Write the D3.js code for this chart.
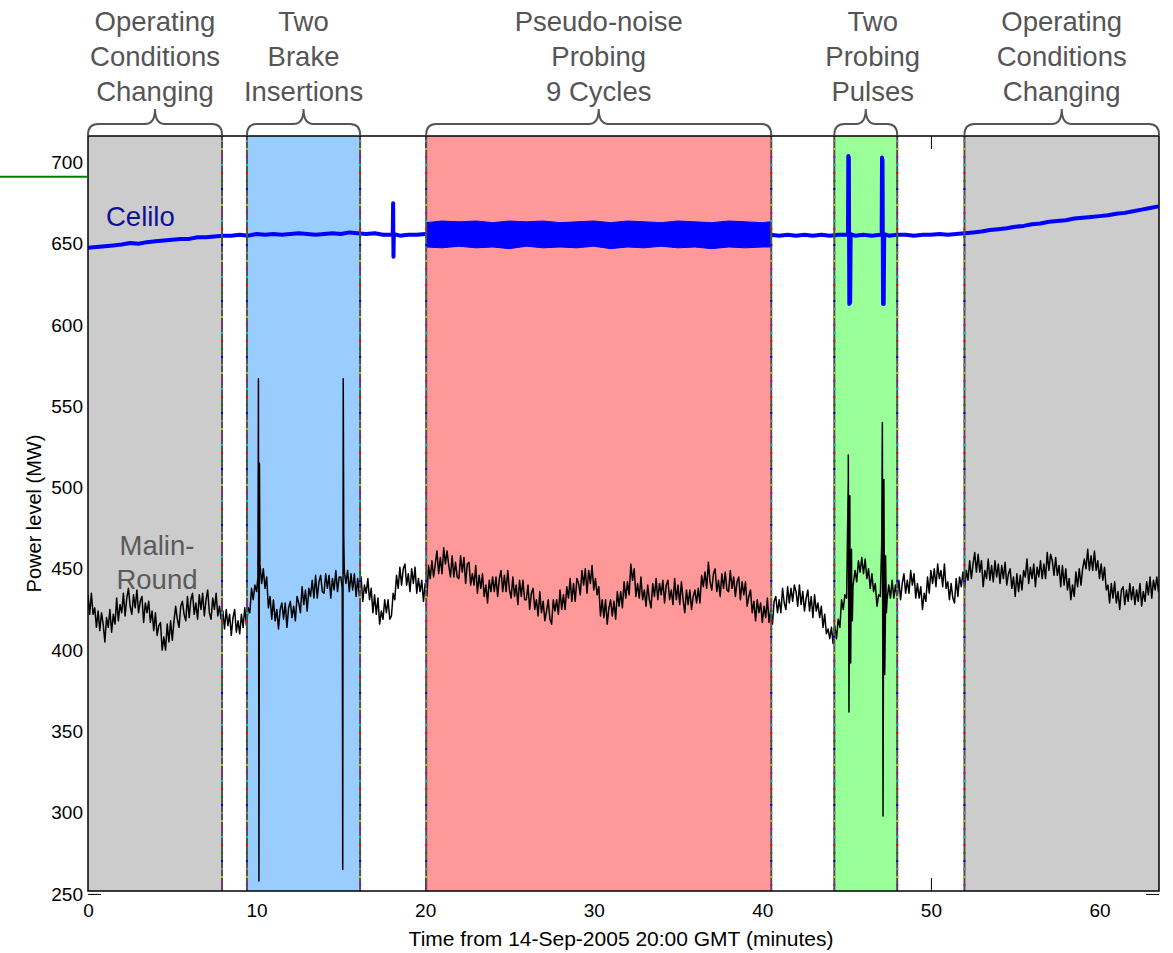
<!DOCTYPE html>
<html><head><meta charset="utf-8">
<script src="https://cdn.jsdelivr.net/npm/d3@7"></script>
<style>body{margin:0;background:#fff}svg{display:block}text{font-family:"Liberation Sans",Arial,sans-serif}</style>
</head><body>
<script>
// ---------- data ----------
const xTicks = [0,10,20,30,40,50,60];
const yTicks = [250,300,350,400,450,500,550,600,650,700];
const shadeStart = [0, 9.43, 20.06, 44.27, 51.99];
const shadeEnd   = [7.95, 16.14, 40.53, 48.0, 63.53];
const shadeColor = ["#cccccc","#99ccff","#ff9999","#99ff99","#cccccc"];
const annotLines = [["Operating","Conditions","Changing"],["Two","Brake","Insertions"],["Pseudo-noise","Probing","9 Cycles"],["Two","Probing","Pulses"],["Operating","Conditions","Changing"]];
const boundaryColors = ["#808080","#bfbf00","#bf00bf","#00bfbf","#ff0000","#008000","#0000ff"];

// Malin-Round, sampled every 0.1 min from t=0
const malinStep = 0.1;
const malinValues = [
434,422,435,422,426,414,424,412,423,416,405,420,414,425,411,422,416,432,418,428,
423,435,421,432,438,427,422,434,426,437,423,430,433,417,429,423,430,417,424,412,
423,409,415,417,400,408,400,416,405,418,406,418,427,419,414,427,430,422,418,433,
420,431,435,422,429,419,434,425,435,421,431,437,423,419,432,425,435,421,427,419,
424,413,425,415,422,409,420,425,411,418,410,422,414,426,415,426,423,438,431,440,
436,520,449,441,450,438,445,426,433,419,431,418,425,413,425,429,419,429,414,426,
430,420,427,418,433,429,423,439,428,437,424,438,433,443,432,446,432,442,446,436,
435,447,438,446,432,444,437,449,436,445,445,350,450,441,449,436,447,437,447,433,
444,433,445,430,440,435,444,431,438,423,434,422,432,416,424,419,431,423,431,419,
421,435,431,446,438,451,440,450,453,440,447,436,450,441,451,435,444,436,443,430,
441,433,452,444,455,445,453,461,447,457,447,463,453,461,452,445,458,445,454,445,
444,458,448,457,441,453,454,440,447,440,452,435,446,438,447,433,440,429,443,436,
445,436,445,433,444,449,436,446,436,449,437,432,445,433,440,428,443,433,443,431,
431,440,425,435,438,425,431,421,436,423,430,418,424,431,419,416,431,424,431,422,
437,425,434,425,439,432,444,430,441,430,444,441,434,449,440,450,435,449,441,452,
437,444,434,439,421,431,420,431,416,426,431,421,430,419,436,427,436,426,442,432,
442,434,453,443,450,433,441,432,445,431,437,427,440,431,426,441,433,444,431,441,
434,443,429,440,443,431,437,428,444,431,440,428,442,431,423,437,428,437,425,433,
437,429,438,429,446,439,448,438,454,442,437,447,450,436,443,433,447,438,448,437,
436,449,438,445,433,442,445,431,442,434,442,427,433,437,423,430,418,431,423,429,
417,427,420,432,417,425,416,430,433,423,431,423,438,429,425,439,429,438,430,440,
436,427,440,428,436,424,432,437,424,433,420,434,424,429,420,427,414,422,410,413,
407,414,404,415,407,419,414,431,425,434,432,505,450,440,441,449,442,455,448,457,
447,456,444,450,438,447,436,441,427,434,433,500,470,420,431,440,432,443,432,440,
432,443,431,441,447,435,443,435,449,440,447,432,441,432,439,425,435,430,445,435,
449,441,450,439,453,444,449,439,453,438,442,431,441,432,429,444,433,445,439,448,
438,449,443,455,444,453,460,448,459,448,455,439,449,444,456,443,452,442,455,445,
453,441,452,444,454,440,447,450,438,445,433,447,436,446,437,449,445,456,441,451,
444,453,439,451,445,455,444,453,444,460,449,459,455,446,457,446,452,439,452,440,
450,437,444,431,440,433,448,439,450,440,450,456,450,462,449,458,449,461,449,455,
444,453,443,451,437,440,429,441,432,442,429,436,425,437,439,428,437,430,441,431,
439,428,437,430,441,427,436,430,442,434,445,432,443,437,445,436,444];
// Malin-Round brake insertions / probing pulse transients
const malinEventT = [10.08,10.11,10.14,10.17,10.21, 15.08,15.11,15.14,15.17,15.22, 45.05,45.1,45.14,45.19,45.24,45.29,45.34,45.38, 47.08,47.12,47.16,47.21,47.26,47.31,47.36];
const malinEventV = [445,567,258,515,452, 438,265,567,470,447, 470,520,362,495,392,462,418,440, 465,540,298,505,385,458,423];

// Celilo, sampled every 0.5 min from t=0
const celiloStep = 0.5;
const celiloValues = [
647.5,648,648.5,649,649.5,650.5,650,651,651.5,652,
652.5,653,653,654,654,654.5,655,655,655.5,655,
656,655.5,656,655.5,656,656.5,656,655.5,656,656.5,
656,657,656.5,656,656.5,655.5,655.5,655,655.5,655.5,
656,656,656,656,656,656,656,656,656,656,
656,656,656,656,656,656,656,656,656,656,
656,656,656,656,656,656,656,656,656,656,
656,656,656,656,656,656,656,656,656,656,
656,655.5,655,655.5,655,655.5,655,655.5,655,655.5,
655.5,655,655.5,655,655.5,655,655.5,655.5,655,655.5,
655.5,656,655.5,656,656.5,657,657.5,658.5,659,659.5,
660.5,661,662,662.5,663.5,664,664.5,665.5,666,666.5,
667,667.5,668.5,669,670,671,672,673];
const celiloEventT = [18.08,18.1,18.12,18.14, 45.08,45.1,45.13,45.16,45.21,45.24, 47.08,47.1,47.13,47.16,47.2,47.23];
const celiloEventV = [656,675,642,656, 656,704,703,613,614,656, 656,703,701,613,613,656];
// Celilo pseudo-noise probing envelope
const bandT  = [20.08,21,22,23,24,25,26,27,28,29,30,31,32,33,34,35,36,37,38,39,40,40.5];
const bandHi = [663,664,663.5,664,663,664,663.5,664,663,663.5,664,663,664,663.5,663,664,663.5,663,664,663.5,663,663.5];
const bandLo = [648,647.5,648.5,647.5,648,647,648.5,647.5,648,647.5,648.5,647,648,647.5,648.5,647.5,648,647,648,647.5,648,648];
const leftMarkerValue = 691.2;

// ---------- chart ----------
const W = 1173, H = 953;
const svg = d3.select("body").append("svg").attr("width", W).attr("height", H);
const x = d3.scaleLinear().domain([0, 63.53]).range([88, 1159]);
const y = d3.scaleLinear().domain([251.8, 716.3]).range([891, 136]);
const [x0, x1] = x.range(), [yb, yt] = y.range();

svg.append("defs").append("clipPath").attr("id","clip").append("rect")
  .attr("x", x0).attr("y", yt).attr("width", x1-x0).attr("height", yb-yt);

// axes (inward ticks) drawn first, patches cover most of them
const xAxB = svg.append("g").attr("transform",`translate(0,${yb})`)
  .call(d3.axisBottom(x).tickValues(xTicks).tickSizeInner(-13).tickSizeOuter(0).tickPadding(13));
const xAxT = svg.append("g").attr("transform",`translate(0,${yt})`)
  .call(d3.axisTop(x).tickValues(xTicks).tickSizeInner(-13).tickSizeOuter(0).tickFormat(""));
const yAxL = svg.append("g").attr("transform",`translate(${x0},0)`)
  .call(d3.axisLeft(y).tickValues(yTicks).tickSizeInner(-13).tickSizeOuter(0).tickPadding(5));
const yAxR = svg.append("g").attr("transform",`translate(${x1},0)`)
  .call(d3.axisRight(y).tickValues(yTicks).tickSizeInner(-13).tickSizeOuter(0).tickFormat(""));
[xAxB,xAxT,yAxL,yAxR].forEach(g=>{
  g.select(".domain").remove();
  g.selectAll("line").attr("stroke","#000");
  g.selectAll("text").attr("font-size",19).attr("fill","#000")
   .style("font-family",'"Liberation Sans",Arial,sans-serif');
});

// shaded regions
svg.append("g").selectAll("rect").data(shadeStart).join("rect")
  .attr("x", d=>x(d)).attr("y", yt)
  .attr("width", (d,i)=>x(shadeEnd[i])-x(d)).attr("height", yb-yt)
  .attr("fill", (d,i)=>shadeColor[i]);

// data
const plot = svg.append("g").attr("clip-path","url(#clip)");
const malinPts = malinValues.map((v,i)=>[i*malinStep, v])
  .concat(malinEventT.map((t,i)=>[t, malinEventV[i]])).sort((a,b)=>a[0]-b[0]);
const celiloPts = celiloValues.map((v,i)=>[i*celiloStep, v])
  .concat(celiloEventT.map((t,i)=>[t, celiloEventV[i]])).sort((a,b)=>a[0]-b[0]);
const line = d3.line().x(d=>x(d[0])).y(d=>y(d[1]));

plot.append("path").datum(malinPts).attr("d", line)
  .attr("fill","none").attr("stroke","#000").attr("stroke-width",1.5).attr("stroke-linejoin","round");
plot.append("path").datum(celiloPts).attr("d", line)
  .attr("fill","none").attr("stroke","#0000ff").attr("stroke-width",4).attr("stroke-linejoin","round");
plot.append("path").datum(bandT.map((t,i)=>[t,bandHi[i],bandLo[i]]))
  .attr("d", d3.area().x(d=>x(d[0])).y0(d=>y(d[2])).y1(d=>y(d[1])))
  .attr("fill","#0000ff").attr("stroke","#0000ff").attr("stroke-width",1);

// region boundaries (overlapping multi-colour dashed lines)
const bounds = [shadeEnd[0], shadeStart[1], shadeEnd[1], shadeStart[2], shadeEnd[2], shadeStart[3], shadeEnd[3], shadeStart[4]];
const bg = svg.append("g");
bounds.forEach(b=>{
  bg.append("line").attr("x1",x(b)).attr("x2",x(b)).attr("y1",yt).attr("y2",yb)
    .attr("stroke","#505050").attr("stroke-width",2);
  boundaryColors.forEach((c,k)=>{
    bg.append("line").attr("x1",x(b)).attr("x2",x(b)).attr("y1",yt).attr("y2",yb)
      .attr("stroke",c).attr("stroke-width",2)
      .attr("stroke-dasharray","2,54").attr("stroke-dashoffset", -(k*8+4));
  });
});

// axes box
svg.append("rect").attr("x",x0).attr("y",yt).attr("width",x1-x0).attr("height",yb-yt)
  .attr("fill","none").attr("stroke","#000").attr("stroke-width",1.5);

// left green marker
svg.append("line").attr("x1",0).attr("x2",x0).attr("y1",y(leftMarkerValue)).attr("y2",y(leftMarkerValue))
  .attr("stroke","#008000").attr("stroke-width",2);

// axis titles
svg.append("text").attr("x",621).attr("y",946).attr("text-anchor","middle")
  .attr("font-size",21).text("Time from 14-Sep-2005 20:00 GMT (minutes)");
svg.append("text").attr("transform",`translate(41,${(yt+yb)/2}) rotate(-90)`).attr("text-anchor","middle")
  .attr("font-size",20).text("Power level (MW)");

// series labels
svg.append("text").attr("x",106).attr("y",226).attr("font-size",27.5).attr("fill","#101096").text("Celilo");
const ml = svg.append("text").attr("font-size",27.5).attr("fill","#5a5a5a").attr("text-anchor","middle");
ml.append("tspan").attr("x",157).attr("y",555).text("Malin-");
ml.append("tspan").attr("x",157).attr("y",589).text("Round");

// braces and annotations
const bracePath = (a,b)=>{
  const m=(a+b)/2, r=10, yB=135, yM=124, yT=109;
  return `M${a},${yB} Q${a},${yM} ${a+r},${yM} L${m-r},${yM} Q${m},${yM} ${m},${yT} Q${m},${yM} ${m+r},${yM} L${b-r},${yM} Q${b},${yM} ${b},${yB}`;
};
const labelShift = [0,0,0,7,0];
shadeStart.forEach((s,i)=>{
  const a=x(s), b=x(shadeEnd[i]);
  svg.append("path").attr("d",bracePath(a,b)).attr("fill","none").attr("stroke","#555").attr("stroke-width",2);
  const t = svg.append("text").attr("text-anchor","middle").attr("font-size",27.5).attr("fill","#555");
  annotLines[i].forEach((s2,j)=>t.append("tspan").attr("x",(a+b)/2+labelShift[i]).attr("y",31+j*35).text(s2));
});
</script>
</body></html>
